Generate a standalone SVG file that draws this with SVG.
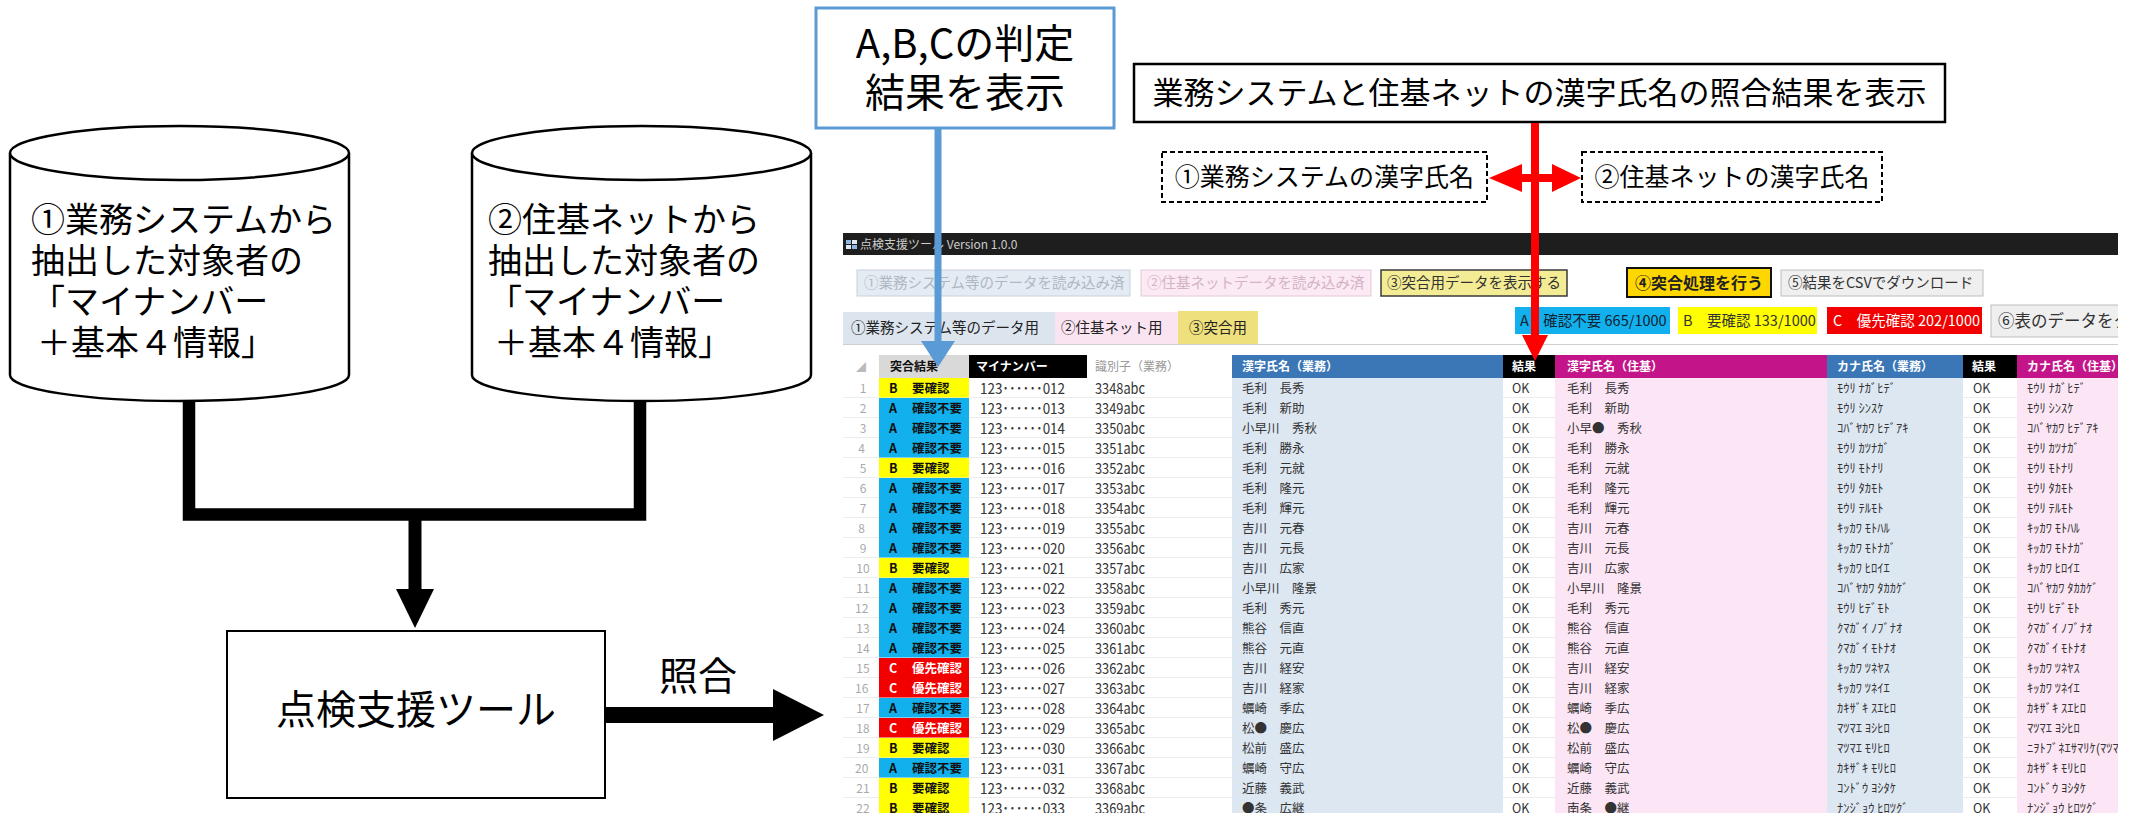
<svg xmlns="http://www.w3.org/2000/svg" width="2139" height="813" viewBox="0 0 2139 813">
<style>
text{font-family:"Noto Sans CJK JP","Noto Sans",sans-serif;}
.big{font-size:34px;fill:#000}
.ui{font-size:14.5px}
.h{font-size:12px;font-weight:bold;fill:#fff}
.c{font-size:12.5px;fill:#333}
.k{font-size:12.5px;fill:#333}
.n{font-size:15px;fill:#333}
.rn{font-size:12px;fill:#aaa}
.j{font-size:12.5px;font-weight:bold}
.shape{fill:#fff;stroke:#000;stroke-width:2.5}
</style>
<defs>
<clipPath id="shot"><rect x="843" y="233" width="1275" height="580"/></clipPath>
</defs>
<rect width="2139" height="813" fill="#fff"/>

<g id="cyl1">
<path class="shape" d="M10,153 L10,375 A169.5,26 0 0 0 349,375 L349,153"/>
<ellipse class="shape" cx="179.5" cy="153" rx="169.5" ry="27"/>
<text class="big" x="31" y="232">①業務システムから</text>
<text class="big" x="31" y="273">抽出した対象者の</text>
<text class="big" x="31" y="314">「マイナンバー</text>
<text class="big" x="37" y="355">＋基本４情報」</text>
</g>
<g id="cyl2">
<path class="shape" d="M472,153 L472,375 A169.5,26 0 0 0 811,375 L811,153"/>
<ellipse class="shape" cx="641.5" cy="153" rx="169.5" ry="27"/>
<text class="big" x="488" y="232">②住基ネットから</text>
<text class="big" x="488" y="273">抽出した対象者の</text>
<text class="big" x="488" y="314">「マイナンバー</text>
<text class="big" x="494" y="355">＋基本４情報」</text>
</g>
<g id="tool">
<rect x="227" y="631" width="378" height="167" fill="#fff" stroke="#000" stroke-width="2"/>
<text x="416" y="724" font-size="40" text-anchor="middle">点検支援ツール</text>
</g>
<g id="abc-label">
<rect x="816" y="8" width="298" height="120" fill="#fff" stroke="#5B9BD5" stroke-width="3"/>
<text x="965" y="58" font-size="40" text-anchor="middle">A,B,Cの判定</text>
<text x="965" y="107" font-size="40" text-anchor="middle">結果を表示</text>
</g>
<g id="match-label">
<rect x="1134" y="64" width="811" height="58" fill="#fff" stroke="#000" stroke-width="2.5"/>
<text x="1539.5" y="104" font-size="31" text-anchor="middle">業務システムと住基ネットの漢字氏名の照合結果を表示</text>
</g>
<g id="kanji1">
<rect x="1162" y="152" width="325" height="50" fill="#fff" stroke="#000" stroke-width="2" stroke-dasharray="5 3"/>
<text x="1324.5" y="186" font-size="25" text-anchor="middle">①業務システムの漢字氏名</text>
</g>
<g id="kanji2">
<rect x="1582" y="152" width="300" height="50" fill="#fff" stroke="#000" stroke-width="2" stroke-dasharray="5 3"/>
<text x="1732" y="186" font-size="25" text-anchor="middle">②住基ネットの漢字氏名</text>
</g>

<g id="screenshot" clip-path="url(#shot)">
<rect x="843" y="233" width="1275" height="580" fill="#fff"/>
<rect x="843" y="233" width="1275" height="22" fill="#1e1e1e"/>
<rect x="846" y="240" width="5" height="4" fill="#8fb8e0"/><rect x="852" y="240" width="5" height="4" fill="#dfe9f5"/>
<rect x="846" y="245" width="5" height="4" fill="#dfe9f5"/><rect x="852" y="245" width="5" height="4" fill="#8fb8e0"/>
<text x="860" y="249" font-size="12" fill="#ccc">点検支援ツール Version 1.0.0</text>

<rect x="857" y="270" width="273" height="26" fill="#E4EBF2" stroke="#C9D2DC"/>
<text class="ui" x="864" y="288" fill="#aeb8c4">①業務システム等のデータを読み込み済</text>
<rect x="1141" y="270" width="230" height="26" fill="#FBE9F4" stroke="#E2CAD9"/>
<text class="ui" x="1147" y="288" fill="#d5b3c7">②住基ネットデータを読み込み済</text>
<rect x="1381" y="270" width="186" height="26" fill="#F4EC94" stroke="#3a3a3a" stroke-width="1.5"/>
<text class="ui" x="1387" y="288" fill="#333">③突合用データを表示する</text>
<rect x="1627" y="268" width="144" height="29" fill="#FFD700" stroke="#111" stroke-width="2"/>
<text x="1635" y="288.5" font-size="16" font-weight="bold" fill="#222">④突合処理を行う</text>
<rect x="1781" y="270" width="202" height="26" fill="#EFEFEF" stroke="#BDBDBD"/>
<text class="ui" x="1788" y="288" fill="#333">⑤結果をCSVでダウンロード</text>

<rect x="843" y="312" width="212" height="32" fill="#DCE4EE"/>
<text class="ui" x="851" y="333" fill="#222">①業務システム等のデータ用</text>
<rect x="1055" y="312" width="123" height="32" fill="#FBE4F2"/>
<text class="ui" x="1061" y="333" fill="#222">②住基ネット用</text>
<rect x="1178" y="311" width="80" height="33" fill="#EEE07C"/>
<text class="ui" x="1189" y="333" fill="#222">③突合用</text>
<line x1="843" y1="344.5" x2="2118" y2="344.5" stroke="#cfcfcf"/>

<rect x="1515" y="307" width="155" height="27" fill="#12B0EC"/>
<text class="ui" x="1520" y="326" fill="#123">A　確認不要 665/1000</text>
<rect x="1678" y="307" width="139" height="27" fill="#FFFF00"/>
<text class="ui" x="1683" y="326" fill="#333">B　要確認 133/1000</text>
<rect x="1827" y="307" width="155" height="27" fill="#F20000"/>
<text class="ui" x="1833" y="326" fill="#fff">C　優先確認 202/1000</text>
<rect x="1991" y="305" width="140" height="32" fill="#EFEFEF" stroke="#BDBDBD"/>
<text x="1998" y="327" font-size="16.5" fill="#333">⑥表のデータをク</text>

<g id="rowlines" stroke="#ececec" stroke-width="1">
<line x1="843" y1="397.5" x2="2118" y2="397.5"/><line x1="843" y1="417.5" x2="2118" y2="417.5"/>
<line x1="843" y1="437.5" x2="2118" y2="437.5"/><line x1="843" y1="457.5" x2="2118" y2="457.5"/>
<line x1="843" y1="477.5" x2="2118" y2="477.5"/><line x1="843" y1="497.5" x2="2118" y2="497.5"/>
<line x1="843" y1="517.5" x2="2118" y2="517.5"/><line x1="843" y1="537.5" x2="2118" y2="537.5"/>
<line x1="843" y1="557.5" x2="2118" y2="557.5"/><line x1="843" y1="577.5" x2="2118" y2="577.5"/>
<line x1="843" y1="597.5" x2="2118" y2="597.5"/><line x1="843" y1="617.5" x2="2118" y2="617.5"/>
<line x1="843" y1="637.5" x2="2118" y2="637.5"/><line x1="843" y1="657.5" x2="2118" y2="657.5"/>
<line x1="843" y1="677.5" x2="2118" y2="677.5"/><line x1="843" y1="697.5" x2="2118" y2="697.5"/>
<line x1="843" y1="717.5" x2="2118" y2="717.5"/><line x1="843" y1="737.5" x2="2118" y2="737.5"/>
<line x1="843" y1="757.5" x2="2118" y2="757.5"/><line x1="843" y1="777.5" x2="2118" y2="777.5"/>
<line x1="843" y1="797.5" x2="2118" y2="797.5"/>
</g>
<rect x="1232" y="378" width="271" height="435" fill="#DDE7F2"/>
<rect x="1555" y="378" width="272" height="435" fill="#FCE6F5"/>
<rect x="1827" y="378" width="136" height="435" fill="#DDE7F2"/>
<rect x="2017" y="378" width="101" height="435" fill="#FCE6F5"/>

<g id="header">
<text x="856" y="371" font-size="10" fill="#bbb">◢</text>
<rect x="879" y="355" width="90" height="23" fill="#D9D9D9"/>
<text class="h" x="890" y="371" fill="#111" style="fill:#111">突合結果</text>
<rect x="969" y="355" width="118" height="23" fill="#000"/>
<text class="h" x="976" y="371">マイナンバー</text>
<text x="1095" y="371" font-size="12" fill="#999">識別子（業務）</text>
<rect x="1232" y="355" width="271" height="23" fill="#3B76B6"/>
<text class="h" x="1242" y="371">漢字氏名（業務）</text>
<rect x="1503" y="355" width="52" height="23" fill="#000"/>
<text class="h" x="1512" y="371">結果</text>
<rect x="1555" y="355" width="272" height="23" fill="#C4148A"/>
<text class="h" x="1567" y="371">漢字氏名（住基）</text>
<rect x="1827" y="355" width="136" height="23" fill="#3B76B6"/>
<text class="h" x="1837" y="371">カナ氏名（業務）</text>
<rect x="1963" y="355" width="54" height="23" fill="#000"/>
<text class="h" x="1972" y="371">結果</text>
<rect x="2017" y="355" width="101" height="23" fill="#C4148A"/>
<text class="h" x="2027" y="371">カナ氏名（住基）</text>
</g>

<g id="judge">
<rect x="879" y="378" width="90" height="19.5" fill="#FFFF00"/>
<rect x="879" y="398" width="90" height="59.5" fill="#12B0EC"/>
<rect x="879" y="458" width="90" height="19.5" fill="#FFFF00"/>
<rect x="879" y="478" width="90" height="79.5" fill="#12B0EC"/>
<rect x="879" y="558" width="90" height="19.5" fill="#FFFF00"/>
<rect x="879" y="578" width="90" height="79.5" fill="#12B0EC"/>
<rect x="879" y="658" width="90" height="39.5" fill="#F20000"/>
<rect x="879" y="698" width="90" height="19.5" fill="#12B0EC"/>
<rect x="879" y="718" width="90" height="19.5" fill="#F20000"/>
<rect x="879" y="738" width="90" height="19.5" fill="#FFFF00"/>
<rect x="879" y="758" width="90" height="19.5" fill="#12B0EC"/>
<rect x="879" y="778" width="90" height="35" fill="#FFFF00"/>
<text class="j" fill="#111">
<tspan x="889" y="392.5">B</tspan><tspan x="912" y="392.5">要確認</tspan>
<tspan x="889" y="412.5">A</tspan><tspan x="912" y="412.5">確認不要</tspan>
<tspan x="889" y="432.5">A</tspan><tspan x="912" y="432.5">確認不要</tspan>
<tspan x="889" y="452.5">A</tspan><tspan x="912" y="452.5">確認不要</tspan>
<tspan x="889" y="472.5">B</tspan><tspan x="912" y="472.5">要確認</tspan>
<tspan x="889" y="492.5">A</tspan><tspan x="912" y="492.5">確認不要</tspan>
<tspan x="889" y="512.5">A</tspan><tspan x="912" y="512.5">確認不要</tspan>
<tspan x="889" y="532.5">A</tspan><tspan x="912" y="532.5">確認不要</tspan>
<tspan x="889" y="552.5">A</tspan><tspan x="912" y="552.5">確認不要</tspan>
<tspan x="889" y="572.5">B</tspan><tspan x="912" y="572.5">要確認</tspan>
<tspan x="889" y="592.5">A</tspan><tspan x="912" y="592.5">確認不要</tspan>
<tspan x="889" y="612.5">A</tspan><tspan x="912" y="612.5">確認不要</tspan>
<tspan x="889" y="632.5">A</tspan><tspan x="912" y="632.5">確認不要</tspan>
<tspan x="889" y="652.5">A</tspan><tspan x="912" y="652.5">確認不要</tspan>
<tspan x="889" y="712.5">A</tspan><tspan x="912" y="712.5">確認不要</tspan>
<tspan x="889" y="752.5">B</tspan><tspan x="912" y="752.5">要確認</tspan>
<tspan x="889" y="772.5">A</tspan><tspan x="912" y="772.5">確認不要</tspan>
<tspan x="889" y="792.5">B</tspan><tspan x="912" y="792.5">要確認</tspan>
<tspan x="889" y="812.5">B</tspan><tspan x="912" y="812.5">要確認</tspan>
</text>
<text class="j" fill="#fff">
<tspan x="889" y="672.5">C</tspan><tspan x="912" y="672.5">優先確認</tspan>
<tspan x="889" y="692.5">C</tspan><tspan x="912" y="692.5">優先確認</tspan>
<tspan x="889" y="732.5">C</tspan><tspan x="912" y="732.5">優先確認</tspan>
</text>
</g>

<text class="rn" text-anchor="middle">
<tspan x="863" y="392.5">1</tspan><tspan x="863" y="412.5">2</tspan><tspan x="863" y="432.5">3</tspan><tspan x="863" y="452.5">4</tspan>
<tspan x="863" y="472.5">5</tspan><tspan x="863" y="492.5">6</tspan><tspan x="863" y="512.5">7</tspan><tspan x="863" y="532.5">8</tspan>
<tspan x="863" y="552.5">9</tspan><tspan x="863" y="572.5">10</tspan><tspan x="863" y="592.5">11</tspan><tspan x="863" y="612.5">12</tspan>
<tspan x="863" y="632.5">13</tspan><tspan x="863" y="652.5">14</tspan><tspan x="863" y="672.5">15</tspan><tspan x="863" y="692.5">16</tspan>
<tspan x="863" y="712.5">17</tspan><tspan x="863" y="732.5">18</tspan><tspan x="863" y="752.5">19</tspan><tspan x="863" y="772.5">20</tspan>
<tspan x="863" y="792.5">21</tspan><tspan x="863" y="812.5">22</tspan>
</text>

<g id="mynumber" class="n">
<text class="n" x="980" y="393.5" textLength="85" lengthAdjust="spacingAndGlyphs">123･･････012</text>
<text class="n" x="980" y="413.5" textLength="85" lengthAdjust="spacingAndGlyphs">123･･････013</text>
<text class="n" x="980" y="433.5" textLength="85" lengthAdjust="spacingAndGlyphs">123･･････014</text>
<text class="n" x="980" y="453.5" textLength="85" lengthAdjust="spacingAndGlyphs">123･･････015</text>
<text class="n" x="980" y="473.5" textLength="85" lengthAdjust="spacingAndGlyphs">123･･････016</text>
<text class="n" x="980" y="493.5" textLength="85" lengthAdjust="spacingAndGlyphs">123･･････017</text>
<text class="n" x="980" y="513.5" textLength="85" lengthAdjust="spacingAndGlyphs">123･･････018</text>
<text class="n" x="980" y="533.5" textLength="85" lengthAdjust="spacingAndGlyphs">123･･････019</text>
<text class="n" x="980" y="553.5" textLength="85" lengthAdjust="spacingAndGlyphs">123･･････020</text>
<text class="n" x="980" y="573.5" textLength="85" lengthAdjust="spacingAndGlyphs">123･･････021</text>
<text class="n" x="980" y="593.5" textLength="85" lengthAdjust="spacingAndGlyphs">123･･････022</text>
<text class="n" x="980" y="613.5" textLength="85" lengthAdjust="spacingAndGlyphs">123･･････023</text>
<text class="n" x="980" y="633.5" textLength="85" lengthAdjust="spacingAndGlyphs">123･･････024</text>
<text class="n" x="980" y="653.5" textLength="85" lengthAdjust="spacingAndGlyphs">123･･････025</text>
<text class="n" x="980" y="673.5" textLength="85" lengthAdjust="spacingAndGlyphs">123･･････026</text>
<text class="n" x="980" y="693.5" textLength="85" lengthAdjust="spacingAndGlyphs">123･･････027</text>
<text class="n" x="980" y="713.5" textLength="85" lengthAdjust="spacingAndGlyphs">123･･････028</text>
<text class="n" x="980" y="733.5" textLength="85" lengthAdjust="spacingAndGlyphs">123･･････029</text>
<text class="n" x="980" y="753.5" textLength="85" lengthAdjust="spacingAndGlyphs">123･･････030</text>
<text class="n" x="980" y="773.5" textLength="85" lengthAdjust="spacingAndGlyphs">123･･････031</text>
<text class="n" x="980" y="793.5" textLength="85" lengthAdjust="spacingAndGlyphs">123･･････032</text>
<text class="n" x="980" y="813.5" textLength="85" lengthAdjust="spacingAndGlyphs">123･･････033</text>
</g>
<g id="ident">
<text class="n" x="1095" y="393.5" textLength="50" lengthAdjust="spacingAndGlyphs">3348abc</text>
<text class="n" x="1095" y="413.5" textLength="50" lengthAdjust="spacingAndGlyphs">3349abc</text>
<text class="n" x="1095" y="433.5" textLength="50" lengthAdjust="spacingAndGlyphs">3350abc</text>
<text class="n" x="1095" y="453.5" textLength="50" lengthAdjust="spacingAndGlyphs">3351abc</text>
<text class="n" x="1095" y="473.5" textLength="50" lengthAdjust="spacingAndGlyphs">3352abc</text>
<text class="n" x="1095" y="493.5" textLength="50" lengthAdjust="spacingAndGlyphs">3353abc</text>
<text class="n" x="1095" y="513.5" textLength="50" lengthAdjust="spacingAndGlyphs">3354abc</text>
<text class="n" x="1095" y="533.5" textLength="50" lengthAdjust="spacingAndGlyphs">3355abc</text>
<text class="n" x="1095" y="553.5" textLength="50" lengthAdjust="spacingAndGlyphs">3356abc</text>
<text class="n" x="1095" y="573.5" textLength="50" lengthAdjust="spacingAndGlyphs">3357abc</text>
<text class="n" x="1095" y="593.5" textLength="50" lengthAdjust="spacingAndGlyphs">3358abc</text>
<text class="n" x="1095" y="613.5" textLength="50" lengthAdjust="spacingAndGlyphs">3359abc</text>
<text class="n" x="1095" y="633.5" textLength="50" lengthAdjust="spacingAndGlyphs">3360abc</text>
<text class="n" x="1095" y="653.5" textLength="50" lengthAdjust="spacingAndGlyphs">3361abc</text>
<text class="n" x="1095" y="673.5" textLength="50" lengthAdjust="spacingAndGlyphs">3362abc</text>
<text class="n" x="1095" y="693.5" textLength="50" lengthAdjust="spacingAndGlyphs">3363abc</text>
<text class="n" x="1095" y="713.5" textLength="50" lengthAdjust="spacingAndGlyphs">3364abc</text>
<text class="n" x="1095" y="733.5" textLength="50" lengthAdjust="spacingAndGlyphs">3365abc</text>
<text class="n" x="1095" y="753.5" textLength="50" lengthAdjust="spacingAndGlyphs">3366abc</text>
<text class="n" x="1095" y="773.5" textLength="50" lengthAdjust="spacingAndGlyphs">3367abc</text>
<text class="n" x="1095" y="793.5" textLength="50" lengthAdjust="spacingAndGlyphs">3368abc</text>
<text class="n" x="1095" y="813.5" textLength="50" lengthAdjust="spacingAndGlyphs">3369abc</text>
</g>

<text class="c" id="kanji-gyomu">
<tspan x="1242" y="392.5">毛利　長秀</tspan><tspan x="1242" y="412.5">毛利　新助</tspan><tspan x="1242" y="432.5">小早川　秀秋</tspan>
<tspan x="1242" y="452.5">毛利　勝永</tspan><tspan x="1242" y="472.5">毛利　元就</tspan><tspan x="1242" y="492.5">毛利　隆元</tspan>
<tspan x="1242" y="512.5">毛利　輝元</tspan><tspan x="1242" y="532.5">吉川　元春</tspan><tspan x="1242" y="552.5">吉川　元長</tspan>
<tspan x="1242" y="572.5">吉川　広家</tspan><tspan x="1242" y="592.5">小早川　隆景</tspan><tspan x="1242" y="612.5">毛利　秀元</tspan>
<tspan x="1242" y="632.5">熊谷　信直</tspan><tspan x="1242" y="652.5">熊谷　元直</tspan><tspan x="1242" y="672.5">吉川　経安</tspan>
<tspan x="1242" y="692.5">吉川　経家</tspan><tspan x="1242" y="712.5">蠣崎　季広</tspan><tspan x="1242" y="732.5">松●　慶広</tspan>
<tspan x="1242" y="752.5">松前　盛広</tspan><tspan x="1242" y="772.5">蠣崎　守広</tspan><tspan x="1242" y="792.5">近藤　義武</tspan>
<tspan x="1242" y="812.5">●条　広継</tspan>
</text>
<text class="c" id="kanji-juki">
<tspan x="1567" y="392.5">毛利　長秀</tspan><tspan x="1567" y="412.5">毛利　新助</tspan><tspan x="1567" y="432.5">小早●　秀秋</tspan>
<tspan x="1567" y="452.5">毛利　勝永</tspan><tspan x="1567" y="472.5">毛利　元就</tspan><tspan x="1567" y="492.5">毛利　隆元</tspan>
<tspan x="1567" y="512.5">毛利　輝元</tspan><tspan x="1567" y="532.5">吉川　元春</tspan><tspan x="1567" y="552.5">吉川　元長</tspan>
<tspan x="1567" y="572.5">吉川　広家</tspan><tspan x="1567" y="592.5">小早川　隆景</tspan><tspan x="1567" y="612.5">毛利　秀元</tspan>
<tspan x="1567" y="632.5">熊谷　信直</tspan><tspan x="1567" y="652.5">熊谷　元直</tspan><tspan x="1567" y="672.5">吉川　経安</tspan>
<tspan x="1567" y="692.5">吉川　経家</tspan><tspan x="1567" y="712.5">蠣崎　季広</tspan><tspan x="1567" y="732.5">松●　慶広</tspan>
<tspan x="1567" y="752.5">松前　盛広</tspan><tspan x="1567" y="772.5">蠣崎　守広</tspan><tspan x="1567" y="792.5">近藤　義武</tspan>
<tspan x="1567" y="812.5">南条　●継</tspan>
</text>
<text class="c" id="ok1">
<tspan x="1512" y="392.5">OK</tspan><tspan x="1512" y="412.5">OK</tspan><tspan x="1512" y="432.5">OK</tspan><tspan x="1512" y="452.5">OK</tspan>
<tspan x="1512" y="472.5">OK</tspan><tspan x="1512" y="492.5">OK</tspan><tspan x="1512" y="512.5">OK</tspan><tspan x="1512" y="532.5">OK</tspan>
<tspan x="1512" y="552.5">OK</tspan><tspan x="1512" y="572.5">OK</tspan><tspan x="1512" y="592.5">OK</tspan><tspan x="1512" y="612.5">OK</tspan>
<tspan x="1512" y="632.5">OK</tspan><tspan x="1512" y="652.5">OK</tspan><tspan x="1512" y="672.5">OK</tspan><tspan x="1512" y="692.5">OK</tspan>
<tspan x="1512" y="712.5">OK</tspan><tspan x="1512" y="732.5">OK</tspan><tspan x="1512" y="752.5">OK</tspan><tspan x="1512" y="772.5">OK</tspan>
<tspan x="1512" y="792.5">OK</tspan><tspan x="1512" y="812.5">OK</tspan>
</text>
<text class="c" id="ok2">
<tspan x="1973" y="392.5">OK</tspan><tspan x="1973" y="412.5">OK</tspan><tspan x="1973" y="432.5">OK</tspan><tspan x="1973" y="452.5">OK</tspan>
<tspan x="1973" y="472.5">OK</tspan><tspan x="1973" y="492.5">OK</tspan><tspan x="1973" y="512.5">OK</tspan><tspan x="1973" y="532.5">OK</tspan>
<tspan x="1973" y="552.5">OK</tspan><tspan x="1973" y="572.5">OK</tspan><tspan x="1973" y="592.5">OK</tspan><tspan x="1973" y="612.5">OK</tspan>
<tspan x="1973" y="632.5">OK</tspan><tspan x="1973" y="652.5">OK</tspan><tspan x="1973" y="672.5">OK</tspan><tspan x="1973" y="692.5">OK</tspan>
<tspan x="1973" y="712.5">OK</tspan><tspan x="1973" y="732.5">OK</tspan><tspan x="1973" y="752.5">OK</tspan><tspan x="1973" y="772.5">OK</tspan>
<tspan x="1973" y="792.5">OK</tspan><tspan x="1973" y="812.5">OK</tspan>
</text>
<text class="k" id="kana-gyomu">
<tspan x="1837" y="392.5">ﾓｳﾘ ﾅｶﾞﾋﾃﾞ</tspan><tspan x="1837" y="412.5">ﾓｳﾘ ｼﾝｽｹ</tspan><tspan x="1837" y="432.5">ｺﾊﾞﾔｶﾜ ﾋﾃﾞｱｷ</tspan>
<tspan x="1837" y="452.5">ﾓｳﾘ ｶﾂﾅｶﾞ</tspan><tspan x="1837" y="472.5">ﾓｳﾘ ﾓﾄﾅﾘ</tspan><tspan x="1837" y="492.5">ﾓｳﾘ ﾀｶﾓﾄ</tspan>
<tspan x="1837" y="512.5">ﾓｳﾘ ﾃﾙﾓﾄ</tspan><tspan x="1837" y="532.5">ｷｯｶﾜ ﾓﾄﾊﾙ</tspan><tspan x="1837" y="552.5">ｷｯｶﾜ ﾓﾄﾅｶﾞ</tspan>
<tspan x="1837" y="572.5">ｷｯｶﾜ ﾋﾛｲｴ</tspan><tspan x="1837" y="592.5">ｺﾊﾞﾔｶﾜ ﾀｶｶｹﾞ</tspan><tspan x="1837" y="612.5">ﾓｳﾘ ﾋﾃﾞﾓﾄ</tspan>
<tspan x="1837" y="632.5">ｸﾏｶﾞｲ ﾉﾌﾞﾅｵ</tspan><tspan x="1837" y="652.5">ｸﾏｶﾞｲ ﾓﾄﾅｵ</tspan><tspan x="1837" y="672.5">ｷｯｶﾜ ﾂﾈﾔｽ</tspan>
<tspan x="1837" y="692.5">ｷｯｶﾜ ﾂﾈｲｴ</tspan><tspan x="1837" y="712.5">ｶｷｻﾞｷ ｽｴﾋﾛ</tspan><tspan x="1837" y="732.5">ﾏﾂﾏｴ ﾖｼﾋﾛ</tspan>
<tspan x="1837" y="752.5">ﾏﾂﾏｴ ﾓﾘﾋﾛ</tspan><tspan x="1837" y="772.5">ｶｷｻﾞｷ ﾓﾘﾋﾛ</tspan><tspan x="1837" y="792.5">ｺﾝﾄﾞｳ ﾖｼﾀｹ</tspan>
<tspan x="1837" y="812.5">ﾅﾝｼﾞｮｳ ﾋﾛﾂｸﾞ</tspan>
</text>
<text class="k" id="kana-juki">
<tspan x="2027" y="392.5">ﾓｳﾘ ﾅｶﾞﾋﾃﾞ</tspan><tspan x="2027" y="412.5">ﾓｳﾘ ｼﾝｽｹ</tspan><tspan x="2027" y="432.5">ｺﾊﾞﾔｶﾜ ﾋﾃﾞｱｷ</tspan>
<tspan x="2027" y="452.5">ﾓｳﾘ ｶﾂﾅｶﾞ</tspan><tspan x="2027" y="472.5">ﾓｳﾘ ﾓﾄﾅﾘ</tspan><tspan x="2027" y="492.5">ﾓｳﾘ ﾀｶﾓﾄ</tspan>
<tspan x="2027" y="512.5">ﾓｳﾘ ﾃﾙﾓﾄ</tspan><tspan x="2027" y="532.5">ｷｯｶﾜ ﾓﾄﾊﾙ</tspan><tspan x="2027" y="552.5">ｷｯｶﾜ ﾓﾄﾅｶﾞ</tspan>
<tspan x="2027" y="572.5">ｷｯｶﾜ ﾋﾛｲｴ</tspan><tspan x="2027" y="592.5">ｺﾊﾞﾔｶﾜ ﾀｶｶｹﾞ</tspan><tspan x="2027" y="612.5">ﾓｳﾘ ﾋﾃﾞﾓﾄ</tspan>
<tspan x="2027" y="632.5">ｸﾏｶﾞｲ ﾉﾌﾞﾅｵ</tspan><tspan x="2027" y="652.5">ｸﾏｶﾞｲ ﾓﾄﾅｵ</tspan><tspan x="2027" y="672.5">ｷｯｶﾜ ﾂﾈﾔｽ</tspan>
<tspan x="2027" y="692.5">ｷｯｶﾜ ﾂﾈｲｴ</tspan><tspan x="2027" y="712.5">ｶｷｻﾞｷ ｽｴﾋﾛ</tspan><tspan x="2027" y="732.5">ﾏﾂﾏｴ ﾖｼﾋﾛ</tspan>
<tspan x="2027" y="752.5">ﾆｦﾄﾌﾞﾈｴｻﾏﾘｹ(ﾏﾂﾏｴ</tspan><tspan x="2027" y="772.5">ｶｷｻﾞｷ ﾓﾘﾋﾛ</tspan><tspan x="2027" y="792.5">ｺﾝﾄﾞｳ ﾖｼﾀｹ</tspan>
<tspan x="2027" y="812.5">ﾅﾝｼﾞｮｳ ﾋﾛﾂｸﾞ</tspan>
</text>
</g>

<g id="connectors">
<path d="M189,400 V514.5 H640 V400" fill="none" stroke="#000" stroke-width="12.5"/>
<path d="M415,514 V592" fill="none" stroke="#000" stroke-width="13"/>
<polygon points="396,589 434,589 415,628" fill="#000"/>
<rect x="605" y="707" width="170" height="16" fill="#000"/>
<polygon points="773,689 824,715 773,741" fill="#000"/>
<text x="698" y="690" font-size="39" text-anchor="middle">照合</text>
<line x1="938" y1="129" x2="938" y2="345" stroke="#5B9BD5" stroke-width="7"/>
<polygon points="921,341 955,341 938,367" fill="#5B9BD5"/>
<line x1="1535" y1="123" x2="1535" y2="338" stroke="#FF0000" stroke-width="8"/>
<polygon points="1522,335 1548,335 1535,361" fill="#FF0000"/>
<line x1="1518" y1="178" x2="1556" y2="178" stroke="#FF0000" stroke-width="8"/>
<polygon points="1489,178 1522,164 1522,192" fill="#FF0000"/>
<polygon points="1581,178 1552,164 1552,192" fill="#FF0000"/>
</g>
</svg>
